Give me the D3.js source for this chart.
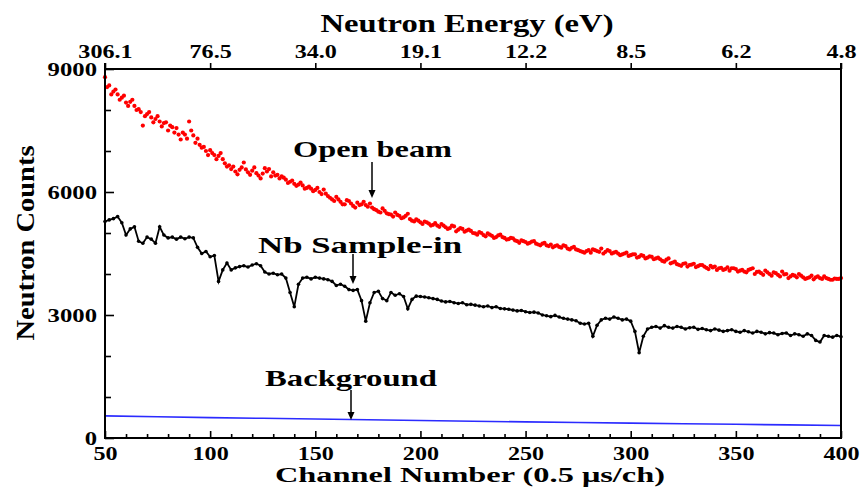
<!DOCTYPE html>
<html><head><meta charset="utf-8">
<script src="https://cdn.jsdelivr.net/npm/d3@7"></script>
<style>
html,body{margin:0;padding:0;background:#fff;}
text{font-family:"Liberation Serif","Times New Roman",serif;font-weight:bold;fill:#000;}
</style></head>
<body><svg id="c" width="862" height="488"></svg>
<script>
// ---- data ----
const channels = d3.range(50, 401, 2);       // even channels 50..400
const channelsOdd = d3.range(51, 400, 2);    // odd channels 51..399
const openBeam = [8800,8600,8450,8380,8300,8180,8200,8100,8020,7620,7900,7820,7780,7720,7680,7500,7580,7560,7280,7400,
7720,7380,7300,7080,7000,7020,6900,6880,6800,6620,6560,6500,6540,6720,6480,6520,6460,6330,6580,6560,
6480,6420,6380,6300,6250,6200,6180,6160,6100,6080,6050,6000,6060,5900,5820,5880,5760,5700,5780,5660,
5740,5700,5680,5720,5580,5520,5600,5480,5450,5500,5420,5380,5470,5300,5330,5260,5280,5230,5200,5180,
5220,5140,5120,5160,5080,5100,5060,5050,4990,5020,4950,4990,4930,4900,4960,4880,4850,4870,4800,4820,
4780,4760,4800,4720,4740,4700,4720,4680,4660,4700,4620,4640,4600,4560,4520,4580,4600,4560,4620,4540,
4560,4520,4500,4480,4520,4460,4480,4420,4440,4400,4420,4380,4360,4300,4380,4280,4240,4200,4260,4220,
4250,4190,4220,4150,4200,4180,4140,4100,4160,4140,4120,4080,4060,4100,4140,4050,4020,4080,4000,4040,
3980,4060,4000,3940,3960,4000,3920,3900,3960,3920,3900,3940,3880,3860,3880,3900];
const openBeamOdd = [8560,8380,8500,8250,8350,8100,8250,8000,7950,7850,7950,7700,7850,7600,7700,7620,7450,7400,7450,7300,
7500,7200,7150,7100,6900,6950,6800,6950,6700,6650,6620,6430,6600,6550,6420,6600,6400,6450,6500,6380,
6400,6330,6350,6220,6280,6150,6230,6080,6130,6020,6100,5950,5960,5860,5780,5820,5700,5800,5720,5620,
5680,5760,5640,5620,5560,5500,5540,5460,5400,5440,5360,5420,5340,5280,5300,5220,5260,5180,5240,5150,
5180,5100,5180,5040,5120,5030,5080,5000,4960,5000,4920,4960,4880,4940,4900,4840,4880,4820,4760,4800,
4740,4790,4740,4700,4760,4680,4650,4700,4640,4680,4600,4660,4580,4540,4560,4520,4580,4540,4500,4580,
4500,4540,4460,4500,4440,4480,4400,4460,4380,4430,4360,4400,4320,4350,4260,4300,4220,4250,4180,4230,
4170,4220,4180,4120,4160,4100,4150,4120,4080,4140,4060,4100,4040,4120,4000,4060,3980,4040,3960,4020,
3940,3990,3900,3980,3920,3960,3880,3920,3870,3940,3880,3900,3860,3890,3880];
const sampleIn = [5280,5320,5350,5400,5250,4950,5100,5150,4800,4750,4900,4850,4750,5150,4950,4880,4900,4850,4900,4860,
4900,4880,4650,4500,4550,4420,4450,3820,4100,4270,4100,4150,4180,4200,4170,4220,4250,4200,4050,4000,
4020,3980,4000,3900,3550,3200,3750,3900,3920,3880,3920,3900,3880,3860,3820,3720,3750,3700,3620,3600,
3620,3350,2850,3300,3550,3580,3400,3350,3550,3480,3520,3450,3150,3380,3460,3450,3440,3420,3400,3380,
3340,3320,3330,3300,3280,3300,3250,3260,3240,3220,3200,3220,3180,3200,3160,3150,3140,3120,3100,3110,
3080,3060,3070,3050,3000,2980,2960,2990,2950,2920,2900,2880,2860,2800,2780,2800,2480,2750,2880,2920,
2900,2950,2920,2880,2900,2850,2600,2080,2480,2660,2700,2720,2680,2740,2700,2680,2720,2700,2660,2690,
2700,2650,2670,2640,2620,2660,2630,2600,2620,2640,2600,2580,2620,2590,2560,2600,2580,2540,2570,2560,
2520,2550,2560,2500,2540,2520,2480,2540,2500,2380,2340,2500,2480,2460,2500,2470];
const bgChannels = [50,75,100,125,150,175,200,225,250,275,300,325,350,375,400];
const background = [540,518,498,480,462,445,428,410,393,378,362,348,334,320,305];
const xMajor = [50,100,150,200,250,300,350,400];
const energyLabels = ["306.1","76.5","34.0","19.1","12.2","8.5","6.2","4.8"];
const yMajor = [0,3000,6000,9000];
const yMinor = [1000,2000,4000,5000,7000,8000];
const xMinor = d3.range(60, 400, 10).filter(v => v % 50 !== 0);

// ---- layout ----
const L = 105, R = 841, T = 69, B = 438;
const svg = d3.select("#c");
const x = d3.scaleLinear().domain([50,400]).range([L,R]);
const y = d3.scaleLinear().domain([0,9000]).range([B,T]);

function stretch(sel, k){ sel.each(function(){ const w=this.getComputedTextLength(); this.setAttribute("textLength", w*k); this.setAttribute("lengthAdjust","spacingAndGlyphs"); }); }
function fitTo(sel, w){ sel.attr("textLength", w).attr("lengthAdjust","spacingAndGlyphs"); }

// background line
svg.append("path").datum(bgChannels.map((c,i)=>[c,background[i]]))
  .attr("fill","none").attr("stroke","#2b2bff").attr("stroke-width",1.6)
  .attr("d", d3.line().x(d=>x(d[0])).y(d=>y(d[1])));

// sample-in line + dots
const sData = channels.map((c,i)=>[c,sampleIn[i]]);
svg.append("path").datum(sData).attr("fill","none").attr("stroke","#000").attr("stroke-width",1.8)
  .attr("d", d3.line().x(d=>x(d[0])).y(d=>y(d[1])));
svg.append("g").selectAll("circle").data(sData).join("circle")
  .attr("cx",d=>x(d[0])).attr("cy",d=>y(d[1])).attr("r",1.8).attr("fill","#000");

// open beam dots
const oData = channels.map((c,i)=>[c,openBeam[i]]).concat(channelsOdd.map((c,i)=>[c,openBeamOdd[i]]));
svg.append("g").selectAll("circle").data(oData).join("circle")
  .attr("cx",d=>x(d[0])).attr("cy",d=>y(d[1])).attr("r",2.1).attr("fill","#ff0000");

// axes
const fs = 19;
function styleAxis(g){ g.select(".domain").remove(); g.selectAll("line").attr("stroke","#000").attr("stroke-width",1.6);
  g.selectAll("text").style("font-size",fs+"px").style("font-family",'"Liberation Serif","Times New Roman",serif').style("font-weight","bold"); }

const gB = svg.append("g").attr("transform",`translate(0,${B})`)
  .call(d3.axisBottom(x).tickValues(xMajor).tickSize(-7).tickPadding(9).tickFormat(d3.format("d")));
styleAxis(gB); stretch(gB.selectAll("text"),1.27);
const gBm = svg.append("g").attr("transform",`translate(0,${B})`)
  .call(d3.axisBottom(x).tickValues(xMinor).tickSize(-4).tickFormat(""));
styleAxis(gBm);

const gT = svg.append("g").attr("transform",`translate(0,${T})`)
  .call(d3.axisTop(x).tickValues(xMajor).tickSize(6).tickPadding(5).tickFormat((d,i)=>energyLabels[i]));
styleAxis(gT); stretch(gT.selectAll("text"),1.27);

const gL = svg.append("g").attr("transform",`translate(${L},0)`)
  .call(d3.axisLeft(y).tickValues(yMajor).tickSize(-9).tickPadding(8).tickFormat(d3.format("d")));
styleAxis(gL); stretch(gL.selectAll("text"),1.3);
const gLm = svg.append("g").attr("transform",`translate(${L},0)`)
  .call(d3.axisLeft(y).tickValues(yMinor).tickSize(-6).tickFormat(""));
styleAxis(gLm);

// frame (left, bottom, top, right)
const fr = svg.append("g").attr("stroke","#000").attr("stroke-width",2).attr("fill","none");
fr.append("line").attr("x1",L).attr("x2",L).attr("y1",T-6).attr("y2",B+1);
fr.append("line").attr("x1",L-1).attr("x2",R+1).attr("y1",B).attr("y2",B);
fr.append("line").attr("x1",L).attr("x2",R).attr("y1",T).attr("y2",T);
fr.append("line").attr("x1",R).attr("x2",R).attr("y1",T-6).attr("y2",B+1);

// titles
svg.append("text").attr("x",(L+R)/2-6).attr("y",32).attr("text-anchor","middle")
  .style("font-size","25px").text("Neutron Energy (eV)").call(fitTo,293);
svg.append("text").attr("x",470).attr("y",482).attr("text-anchor","middle")
  .style("font-size","20px").text("Channel Number (0.5 μs/ch)").call(fitTo,390);
svg.append("text").attr("transform",`translate(34,243) rotate(-90)`).attr("text-anchor","middle")
  .style("font-size","25px").text("Neutron Counts").call(fitTo,195);

// annotations
const ann = [
  {t:"Open beam", x:293, y:157, w:159, ax:372, y1:162, y2:198},
  {t:"Nb Sample-in", x:258, y:253, w:204, ax:353, y1:254, y2:284},
  {t:"Background", x:265, y:386, w:172, ax:351, y1:390, y2:420}
];
ann.forEach(a=>{
  svg.append("text").attr("x",a.x).attr("y",a.y).style("font-size","24px").text(a.t).call(fitTo,a.w);
  svg.append("line").attr("x1",a.ax).attr("x2",a.ax).attr("y1",a.y1).attr("y2",a.y2-6).attr("stroke","#000").attr("stroke-width",1.5);
  svg.append("path").attr("d",`M${a.ax-3.5},${a.y2-8} L${a.ax+3.5},${a.y2-8} L${a.ax},${a.y2} Z`).attr("fill","#000");
});
</script></body></html>
